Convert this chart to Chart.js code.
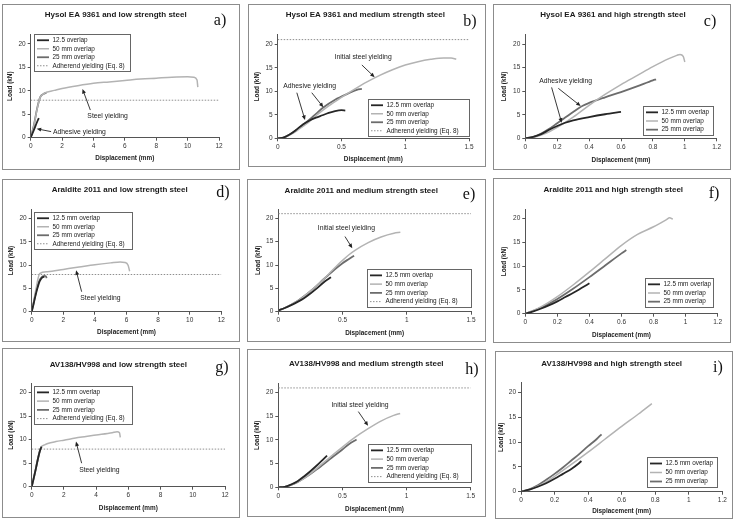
<!DOCTYPE html>
<html>
<head>
<meta charset="utf-8">
<script src="https://cdn.jsdelivr.net/npm/chart.js@4.4.1/dist/chart.umd.min.js"></script>
<style>
  body { margin: 0; background: #fff; }
  #page { position: relative; width: 737px; height: 521px; overflow: hidden; }
  .panel { position: absolute; box-sizing: border-box; border: 1px solid #8c8c8c; background: #fff; }
  .panel canvas { display: block; }
  .letter { position: absolute; font-family: "Liberation Serif", "DejaVu Serif", serif; font-size: 16px; line-height: 1; color: #111; transform: translate(-50%, -50%); }
</style>
</head>
<body>
<div id="page"></div>
<script>
const FONT = '"Liberation Sans", Arial, sans-serif';

const titles = [
    "Hysol EA 9361 and low strength steel",
    "Hysol EA 9361 and medium strength steel",
    "Hysol EA 9361 and high strength steel",
    "Araldite 2011 and low strength steel",
    "Araldite 2011 and medium strength steel",
    "Araldite 2011 and high strength steel",
    "AV138/HV998 and low strength steel",
    "AV138/HV998 and medium strength steel",
    "AV138/HV998 and high strength steel"
];
const letters = ["a)", "b)", "c)", "d)", "e)", "f)", "g)", "h)", "i)"];

const xTicksLow = [0, 2, 4, 6, 8, 10, 12];
const xTicksMedium = [0, 0.5, 1, 1.5];
const xTicksHigh = [0, 0.2, 0.4, 0.6, 0.8, 1, 1.2];
const yTicks = [0, 5, 10, 15, 20];
const loadMax = 22;

const yieldLow = 8;
const yieldMedium = 21;

const overlapLabels = ["12.5 mm overlap", "50 mm overlap", "25 mm overlap"];
const overlapLabelsA = ["12.5 overlap", "50 mm overlap", "25 mm overlap"];
const yieldLabel = "Adherend yielding (Eq. 8)";

// [displacement mm, load kN]
const hysolLow125 = [[0, 0], [0.2, 1.6], [0.4, 3.3], [0.52, 4.2]];
const hysolLow50 = [[0, 0], [0.2, 2.5], [0.4, 6], [0.6, 8.6], [0.8, 9.3], [1, 9.7], [1.5, 10.1], [2, 10.5], [3, 11.1], [4, 11.6], [5, 11.9], [6, 12.2], [7, 12.5], [8, 12.7], [9, 12.9], [10, 13.0], [10.4, 12.9], [10.6, 12.3], [10.65, 10.8]];
const hysolLow25 = [[0, 0], [0.2, 2.6], [0.4, 6.1], [0.6, 8.6], [0.8, 9.3], [1.0, 9.6]];

const hysolMed125 = [[0, 0], [0.05, 0.2], [0.1, 0.9], [0.15, 1.9], [0.2, 3.0], [0.25, 3.8], [0.3, 4.4], [0.35, 4.9], [0.4, 5.4], [0.45, 5.8], [0.5, 6.0], [0.53, 5.9]];
const hysolMed50 = [[0, 0], [0.05, 0.2], [0.1, 0.8], [0.15, 1.6], [0.2, 2.6], [0.25, 3.6], [0.3, 4.8], [0.4, 6.9], [0.5, 8.7], [0.6, 10.4], [0.7, 12.0], [0.8, 13.4], [0.9, 14.6], [1.0, 15.6], [1.1, 16.3], [1.2, 16.8], [1.3, 17.1], [1.36, 17.1], [1.4, 16.8]];
const hysolMed25 = [[0, 0], [0.05, 0.2], [0.1, 0.9], [0.15, 1.8], [0.2, 2.9], [0.25, 4.0], [0.3, 5.2], [0.36, 6.6], [0.45, 8.2], [0.55, 9.5], [0.62, 10.3], [0.66, 10.5]];

const hysolHigh125 = [[0, 0], [0.05, 0.3], [0.1, 0.9], [0.15, 1.8], [0.2, 2.6], [0.25, 3.3], [0.3, 3.8], [0.4, 4.5], [0.5, 5.1], [0.6, 5.6]];
const hysolHigh50 = [[0, 0], [0.05, 0.2], [0.1, 0.7], [0.15, 1.4], [0.2, 2.3], [0.3, 4.5], [0.4, 7.0], [0.5, 9.3], [0.6, 11.4], [0.7, 13.3], [0.8, 15.2], [0.9, 16.9], [0.95, 17.6], [0.97, 17.8], [0.99, 17.4], [1.0, 16.2]];
const hysolHigh25 = [[0, 0], [0.05, 0.3], [0.1, 1.0], [0.15, 2.0], [0.2, 3.2], [0.25, 4.4], [0.3, 5.6], [0.36, 6.9], [0.4, 7.5], [0.5, 8.7], [0.6, 9.8], [0.7, 11.0], [0.8, 12.3], [0.82, 12.5]];

const araldLow125 = [[0, 0], [0.1, 1.4], [0.2, 2.9], [0.3, 4.3], [0.4, 5.5], [0.5, 6.5], [0.6, 7.1], [0.7, 7.4], [0.8, 7.5]];
const araldLow50 = [[0, 0], [0.1, 1.8], [0.2, 3.6], [0.3, 5.4], [0.4, 7.1], [0.5, 8.2], [1, 8.6], [2, 9.1], [3, 9.6], [4, 10.1], [5, 10.5], [5.6, 10.7], [5.9, 10.6], [6.1, 10.0], [6.2, 8.7]];
const araldLow25 = [[0, 0], [0.1, 1.5], [0.2, 3.1], [0.3, 4.6], [0.4, 5.9], [0.5, 6.8], [0.6, 7.3], [0.7, 7.6], [0.8, 7.7], [0.9, 7.6], [0.95, 7.2]];

const araldMed125 = [[0, 0.3], [0.05, 0.8], [0.1, 1.4], [0.15, 2.1], [0.2, 2.9], [0.25, 3.9], [0.3, 5.0], [0.35, 6.2], [0.4, 7.2], [0.41, 7.4]];
const araldMed50 = [[0, 0.3], [0.05, 0.8], [0.1, 1.5], [0.15, 2.3], [0.2, 3.3], [0.25, 4.4], [0.3, 5.6], [0.35, 6.9], [0.4, 8.3], [0.45, 9.7], [0.5, 11.0], [0.55, 12.2], [0.6, 13.2], [0.7, 14.8], [0.8, 16.0], [0.9, 16.8], [0.95, 17.0]];
const araldMed25 = [[0, 0.3], [0.05, 0.8], [0.1, 1.5], [0.15, 2.3], [0.2, 3.3], [0.25, 4.4], [0.3, 5.6], [0.35, 6.9], [0.4, 8.1], [0.45, 9.3], [0.5, 10.4], [0.55, 11.3], [0.59, 12.0]];

const araldHigh125 = [[0, 0], [0.05, 0.5], [0.1, 1.1], [0.15, 1.8], [0.2, 2.6], [0.25, 3.5], [0.3, 4.4], [0.35, 5.4], [0.4, 6.4]];
const araldHigh50 = [[0, 0], [0.1, 1.5], [0.2, 3.6], [0.3, 6.1], [0.4, 8.8], [0.5, 11.6], [0.6, 14.4], [0.7, 16.7], [0.8, 18.3], [0.88, 19.8], [0.9, 20.2], [0.92, 19.9]];
const araldHigh25 = [[0, 0], [0.1, 1.3], [0.2, 3.1], [0.3, 5.3], [0.4, 7.7], [0.5, 10.2], [0.6, 12.7], [0.63, 13.4]];

const avLow125 = [[0, 0], [0.1, 1.4], [0.2, 2.9], [0.3, 4.5], [0.4, 6.1], [0.5, 7.5], [0.6, 8.4], [0.62, 8.5]];
const avLow50 = [[0, 0], [0.1, 1.3], [0.2, 2.8], [0.3, 4.4], [0.4, 6.0], [0.5, 7.5], [0.6, 8.5], [0.8, 8.9], [1, 9.2], [1.5, 9.6], [2, 9.9], [3, 10.5], [4, 11.0], [5, 11.5], [5.3, 11.7], [5.45, 11.5], [5.5, 10.5]];
const avLow25 = [[0, 0], [0.1, 1.5], [0.2, 3.0], [0.3, 4.6], [0.4, 6.2], [0.5, 7.6], [0.55, 8.2]];

const avMed125 = [[0, 0], [0.05, 0.1], [0.1, 0.6], [0.15, 1.3], [0.2, 2.3], [0.25, 3.4], [0.3, 4.6], [0.35, 5.9], [0.38, 6.7]];
const avMed50 = [[0, 0], [0.05, 0.1], [0.1, 0.5], [0.15, 1.1], [0.2, 1.9], [0.25, 2.9], [0.3, 4.0], [0.4, 6.3], [0.5, 8.5], [0.6, 10.6], [0.7, 12.4], [0.8, 14.0], [0.9, 15.2], [0.95, 15.6]];
const avMed25 = [[0, 0], [0.05, 0.1], [0.1, 0.5], [0.15, 1.1], [0.2, 1.9], [0.25, 2.8], [0.3, 3.8], [0.4, 5.9], [0.5, 8.0], [0.55, 9.1], [0.61, 10.1]];

const avHigh125 = [[0, 0], [0.05, 0.4], [0.1, 1.0], [0.15, 1.7], [0.2, 2.6], [0.25, 3.6], [0.3, 4.6], [0.34, 5.6], [0.36, 6.2]];
const avHigh50 = [[0, 0], [0.05, 0.4], [0.1, 1.1], [0.15, 2.0], [0.2, 3.1], [0.3, 5.5], [0.4, 8.0], [0.5, 10.6], [0.6, 13.2], [0.7, 15.7], [0.78, 17.8]];
const avHigh25 = [[0, 0], [0.05, 0.5], [0.1, 1.3], [0.15, 2.4], [0.2, 3.6], [0.25, 4.9], [0.3, 6.3], [0.35, 7.7], [0.4, 9.2], [0.45, 10.6], [0.48, 11.6]];

const seriesStyles = [
    { color: "#262626", width: 1.8 },
    { color: "#b3b3b3", width: 1.5 },
    { color: "#6c6c6c", width: 1.8 }
];

// layout in page pixels: box [x, y, w, h], plot [left, top, right, bottom]
const panels = [
    { xTicks: xTicksLow, labels: overlapLabelsA, series: [hysolLow125, hysolLow50, hysolLow25], yieldAt: yieldLow,
      box: [2, 4, 238, 166], plot: [30.7, 34.6, 219, 137.7], titleAt: [115.7, 15], yTitleX: 10.7, xTitleY: 158.3, letterAt: [220, 20],
      legend: [34, 34, 97, 38],
      notes: [
          { text: "Adhesive yielding", at: [3.1, 1.1], arrows: [[1.3, 1.3, 0.38, 1.9]] },
          { text: "Steel yielding", at: [4.9, 4.5], arrows: [[3.8, 5.9, 3.3, 10.4]] }
      ] },
    { xTicks: xTicksMedium, labels: overlapLabels, series: [hysolMed125, hysolMed50, hysolMed25], yieldAt: yieldMedium,
      box: [248, 4, 238, 163], plot: [277.7, 34.9, 469, 138.3], titleAt: [365.3, 15], yTitleX: 257.7, xTitleY: 159.3, letterAt: [470, 21],
      legend: [368, 99, 102, 38],
      notes: [
          { text: "Adhesive yielding", at: [0.25, 11.2], arrows: [[0.15, 9.7, 0.214, 3.9], [0.267, 9.7, 0.358, 6.6]] },
          { text: "Initial steel yielding", at: [0.67, 17.2], arrows: [[0.66, 15.6, 0.76, 13.0]] }
      ] },
    { xTicks: xTicksHigh, labels: overlapLabels, series: [hysolHigh125, hysolHigh50, hysolHigh25], yieldAt: null,
      box: [493, 4, 238, 166], plot: [525.3, 34.6, 716.7, 138.3], titleAt: [613, 15], yTitleX: 504.7, xTitleY: 160.7, letterAt: [710, 21],
      legend: [643, 106, 71, 30],
      notes: [
          { text: "Adhesive yielding", at: [0.253, 12.15], arrows: [[0.165, 10.8, 0.228, 3.3], [0.207, 10.6, 0.347, 6.85]] }
      ] },
    { xTicks: xTicksLow, labels: overlapLabels, series: [araldLow125, araldLow50, araldLow25], yieldAt: yieldLow,
      box: [2, 179, 238, 163], plot: [31.7, 209.4, 221.3, 311.7], titleAt: [119.7, 190], yTitleX: 11.7, xTitleY: 332.3, letterAt: [223, 192],
      legend: [34, 212, 99, 38],
      notes: [
          { text: "Steel yielding", at: [4.35, 2.9], arrows: [[3.16, 4.3, 2.81, 8.9]] }
      ] },
    { xTicks: xTicksMedium, labels: overlapLabels, series: [araldMed125, araldMed50, araldMed25], yieldAt: yieldMedium,
      box: [247, 179, 239, 163], plot: [278.3, 209, 471, 311.7], titleAt: [361.3, 190.3], yTitleX: 258.3, xTitleY: 333.3, letterAt: [469, 194],
      legend: [367, 269, 105, 39],
      notes: [
          { text: "Initial steel yielding", at: [0.53, 17.9], arrows: [[0.519, 16.1, 0.576, 13.6]] }
      ] },
    { xTicks: xTicksHigh, labels: overlapLabels, series: [araldHigh125, araldHigh50, araldHigh25], yieldAt: null,
      box: [493, 178, 238, 165], plot: [525.3, 209.2, 717.7, 313.7], titleAt: [613.3, 190], yTitleX: 504.7, xTitleY: 335.7, letterAt: [714, 193],
      legend: [645, 278, 69, 30],
      notes: [] },
    { xTicks: xTicksLow, labels: overlapLabels, series: [avLow125, avLow50, avLow25], yieldAt: yieldLow,
      box: [2, 348, 238, 170], plot: [31.7, 383.3, 225, 486.7], titleAt: [118.3, 365], yTitleX: 11.7, xTitleY: 508.3, letterAt: [222, 367],
      legend: [34, 386, 99, 39],
      notes: [
          { text: "Steel yielding", at: [4.2, 3.5], arrows: [[3.1, 5.0, 2.75, 9.6]] }
      ] },
    { xTicks: xTicksMedium, labels: overlapLabels, series: [avMed125, avMed50, avMed25], yieldAt: yieldMedium,
      box: [247, 349, 239, 168], plot: [278.3, 383.2, 470.7, 487.3], titleAt: [366.3, 364], yTitleX: 257.7, xTitleY: 509, letterAt: [472, 369],
      legend: [368, 444, 104, 39],
      notes: [
          { text: "Initial steel yielding", at: [0.637, 17.4], arrows: [[0.624, 16.0, 0.70, 13.0]] }
      ] },
    { xTicks: xTicksHigh, labels: overlapLabels, series: [avHigh125, avHigh50, avHigh25], yieldAt: null,
      box: [495, 351, 238, 168], plot: [521, 382.8, 722.3, 491.7], titleAt: [611.7, 364], yTitleX: 501.7, xTitleY: 511.7, letterAt: [718, 367],
      legend: [647, 457, 71, 31],
      notes: [] }
];

function makeExtras(panel, ox, oy) {
    return {
        id: "panelExtras",
        afterDatasetsDraw(chart) {
            const ctx = chart.ctx;
            const xs = chart.scales.x;
            const ys = chart.scales.y;
            ctx.save();

            // annotations with arrows
            ctx.fillStyle = "#222";
            ctx.strokeStyle = "#222";
            ctx.font = `6.8px ${FONT}`;
            ctx.textAlign = "center";
            ctx.textBaseline = "middle";
            panel.notes.forEach(note => {
                note.arrows.forEach(([x1, y1, x2, y2]) => {
                    const ax = xs.getPixelForValue(x1), ay = ys.getPixelForValue(y1);
                    const bx = xs.getPixelForValue(x2), by = ys.getPixelForValue(y2);
                    const ang = Math.atan2(by - ay, bx - ax);
                    ctx.lineWidth = 0.9;
                    ctx.beginPath();
                    ctx.moveTo(ax, ay);
                    ctx.lineTo(bx - 3 * Math.cos(ang), by - 3 * Math.sin(ang));
                    ctx.stroke();
                    ctx.beginPath();
                    ctx.moveTo(bx, by);
                    ctx.lineTo(bx - 4.5 * Math.cos(ang) + 2 * Math.sin(ang), by - 4.5 * Math.sin(ang) - 2 * Math.cos(ang));
                    ctx.lineTo(bx - 4.5 * Math.cos(ang) - 2 * Math.sin(ang), by - 4.5 * Math.sin(ang) + 2 * Math.cos(ang));
                    ctx.closePath();
                    ctx.fill();
                });
                ctx.fillText(note.text, xs.getPixelForValue(note.at[0]), ys.getPixelForValue(note.at[1]));
            });

            // legend box
            const [lx, ly, lw, lh] = [panel.legend[0] - ox, panel.legend[1] - oy, panel.legend[2], panel.legend[3]];
            const rows = chart.data.datasets;
            ctx.fillStyle = "#fff";
            ctx.fillRect(lx, ly, lw, lh);
            ctx.strokeStyle = "#666";
            ctx.lineWidth = 1;
            ctx.strokeRect(Math.round(lx) + 0.5, Math.round(ly) + 0.5, lw - 1, lh - 1);
            const rowH = (lh - 4) / rows.length;
            ctx.font = `6.4px ${FONT}`;
            ctx.textAlign = "left";
            rows.forEach((ds, i) => {
                const cy = ly + 2 + rowH * (i + 0.5);
                ctx.strokeStyle = ds.borderColor;
                ctx.lineWidth = ds.borderWidth;
                ctx.setLineDash(ds.borderDash || []);
                ctx.beginPath();
                ctx.moveTo(lx + 3, cy);
                ctx.lineTo(lx + 15, cy);
                ctx.stroke();
                ctx.setLineDash([]);
                ctx.fillStyle = "#222";
                ctx.fillText(ds.label, lx + 18.5, cy);
            });
            ctx.restore();
        }
    };
}

const page = document.getElementById("page");

panels.forEach((p, idx) => {
    const [bx, by, bw, bh] = p.box;
    const div = document.createElement("div");
    div.className = "panel";
    Object.assign(div.style, { left: bx + "px", top: by + "px", width: bw + "px", height: bh + "px" });
    const canvas = document.createElement("canvas");
    const W = bw - 2, H = bh - 2;
    canvas.width = W;
    canvas.height = H;
    canvas.style.width = W + "px";
    canvas.style.height = H + "px";
    div.appendChild(canvas);
    page.appendChild(div);

    const letter = document.createElement("div");
    letter.className = "letter";
    letter.textContent = letters[idx];
    letter.style.left = p.letterAt[0] + "px";
    letter.style.top = p.letterAt[1] + "px";
    page.appendChild(letter);

    const ox = bx + 1, oy = by + 1;
    const L = p.plot[0] - ox, T = p.plot[1] - oy, R = p.plot[2] - ox, B = p.plot[3] - oy;
    const padRight = W - R;
    const tx = p.titleAt[0] - ox, ty = p.titleAt[1] - oy;
    const padLeft = 2 * tx - W + padRight;
    const yAxisW = L - padLeft;
    const xAxisH = H - B;
    const titleSize = 8, titleLH = titleSize * 1.2;
    const axisTitleSize = 6.4, axisTitleLH = axisTitleSize * 1.2;
    const xMax = p.xTicks[p.xTicks.length - 1];

    const datasets = p.series.map((pts, i) => ({
        label: p.labels[i],
        data: pts.map(([x, y]) => ({ x, y })),
        borderColor: seriesStyles[i].color,
        borderWidth: seriesStyles[i].width,
        showLine: true,
        pointRadius: 0,
        cubicInterpolationMode: "monotone",
        fill: false
    }));
    if (p.yieldAt !== null) {
        datasets.push({
            label: yieldLabel,
            data: [{ x: 0, y: p.yieldAt }, { x: xMax, y: p.yieldAt }],
            borderColor: "#8f8f8f",
            borderWidth: 1,
            borderDash: [1.5, 1.5],
            showLine: true,
            pointRadius: 0,
            fill: false
        });
    }

    const tickFont = { family: FONT, size: 6.5 };
    const axisTitleFont = { family: FONT, size: axisTitleSize, weight: "bold", lineHeight: 1.2 };

    new Chart(canvas, {
        type: "scatter",
        data: { datasets },
        options: {
            responsive: false,
            animation: false,
            events: [],
            layout: { padding: { left: padLeft, right: padRight, top: 0, bottom: 0 } },
            plugins: {
                legend: { display: false },
                tooltip: { enabled: false },
                title: {
                    display: true,
                    text: titles[idx],
                    color: "#1a1a1a",
                    font: { family: FONT, size: titleSize, weight: "bold", lineHeight: 1.2 },
                    padding: { top: ty - titleLH / 2, bottom: T - ty - titleLH / 2 }
                }
            },
            scales: {
                x: {
                    type: "linear",
                    min: 0,
                    max: xMax,
                    afterBuildTicks: s => { s.ticks = p.xTicks.map(v => ({ value: v })); },
                    afterFit: s => { s.height = xAxisH; },
                    ticks: { font: tickFont, color: "#333", padding: 2, maxRotation: 0, autoSkip: false, callback: v => String(v) },
                    grid: { drawOnChartArea: false, tickLength: 3, color: "#555" },
                    border: { color: "#555", width: 1 },
                    title: {
                        display: true, text: "Displacement (mm)", color: "#222", font: axisTitleFont,
                        padding: { top: 0, bottom: H - (p.xTitleY - oy) - axisTitleLH / 2 }
                    }
                },
                y: {
                    type: "linear",
                    min: 0,
                    max: loadMax,
                    afterBuildTicks: s => { s.ticks = yTicks.map(v => ({ value: v })); },
                    afterFit: s => { s.width = yAxisW; },
                    ticks: { font: tickFont, color: "#333", padding: 2, autoSkip: false, callback: v => String(v) },
                    grid: { drawOnChartArea: false, tickLength: 3, color: "#555" },
                    border: { color: "#555", width: 1 },
                    title: {
                        display: true, text: "Load (kN)", color: "#222", font: axisTitleFont,
                        padding: { top: (p.yTitleX - ox) - padLeft - axisTitleLH / 2, bottom: 0 }
                    }
                }
            }
        },
        plugins: [makeExtras(p, ox, oy)]
    });
});
</script>
</body>
</html>
